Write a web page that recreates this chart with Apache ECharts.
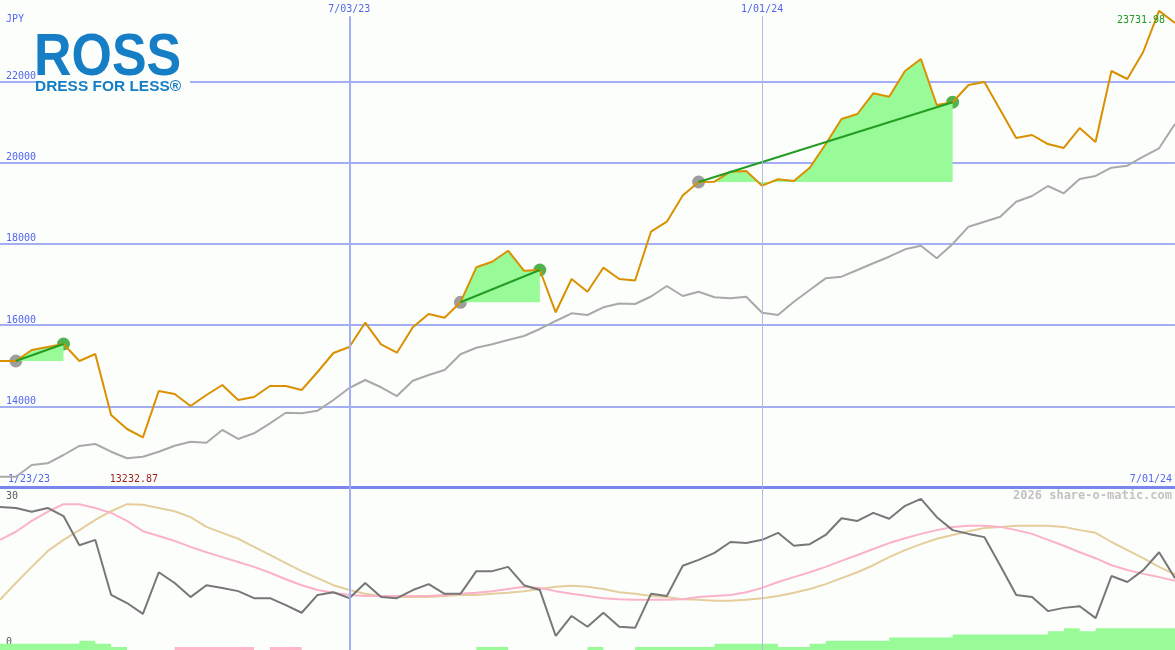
<!DOCTYPE html>
<html>
<head>
<meta charset="utf-8">
<title>ROSS weekly chart</title>
<script src="https://cdn.jsdelivr.net/npm/echarts@6/dist/echarts.min.js"></script>
<style>
  html, body { margin: 0; padding: 0; background: #fcfefc; }
  #chart { width: 1175px; height: 650px; }
</style>
</head>
<body>
<div id="chart"></div>
<script>
// weekly points, index 0 = 1/23/23, index 74 = 7/01/24
const priceJPY = [
  15114, 15114, 15385, 15459, 15532, 15114, 15286, 13785, 13440, 13232.87,
  14376, 14302, 14006, 14277, 14523, 14154, 14228, 14499, 14499, 14400,
  14843, 15311, 15459, 16057, 15525, 15318, 15943, 16271, 16180, 16559,
  17420, 17558, 17829, 17337, 17354, 16313, 17132, 16820, 17411, 17132,
  17095, 18297, 18543, 19188, 19520, 19527, 19774, 19791, 19429, 19587,
  19545, 19872, 20448, 21071, 21194, 21703, 21620, 22252, 22548, 21415,
  21484, 21908, 21982, 21292, 20603, 20677, 20455, 20357, 20849, 20505,
  22252, 22055, 22720, 23731.98, 23434
];
// benchmark (grey) in the same scale
const benchmark = [
  12266, 12266, 12554, 12596, 12800, 13022, 13071, 12881, 12719, 12758,
  12881, 13029, 13128, 13103, 13416, 13194, 13334, 13580, 13841, 13826,
  13891, 14154, 14449, 14646, 14467, 14252, 14629, 14769, 14892, 15279,
  15441, 15525, 15631, 15729, 15902, 16099, 16288, 16246, 16436, 16529,
  16517, 16702, 16960, 16714, 16820, 16682, 16657, 16697, 16303, 16246,
  16574, 16862, 17149, 17189, 17354, 17519, 17681, 17863, 17952, 17642,
  17994, 18420, 18543, 18666, 19035, 19175, 19422, 19242, 19594, 19668,
  19872, 19921, 20143, 20350, 20948
];
// lower panel
const oscillator = [
  26.5, 26.3, 25.6, 26.3, 24.8, 19.4, 20.4, 10.2, 8.7, 6.7,
  14.4, 12.4, 9.8, 12.0, 11.5, 10.9, 9.6, 9.6, 8.3, 6.9,
  10.2, 10.7, 9.6, 12.4, 9.8, 9.6, 11.1, 12.2, 10.4, 10.4,
  14.6, 14.6, 15.4, 12.0, 11.1, 2.6, 6.3, 4.3, 6.9, 4.3,
  4.1, 10.4, 10.0, 15.6, 16.7, 18.0, 20.0, 19.8, 20.4, 21.7,
  19.3, 19.6, 21.3, 24.4, 23.9, 25.4, 24.3, 26.7, 28.0, 24.6,
  22.2, 21.5, 20.9, 15.6, 10.2, 9.8, 7.2, 7.8, 8.1, 5.9,
  13.7, 12.6, 14.8, 18.1, 13.3
];
const avgFast = [
  20.4, 21.9, 23.9, 25.6, 27.0, 27.0, 26.3, 25.4, 23.9, 22.0,
  21.1, 20.2, 19.1, 18.1, 17.2, 16.3, 15.4, 14.3, 13.1, 12.0,
  11.1, 10.6, 10.2, 10.0, 10.0, 10.0, 10.0, 10.0, 10.2, 10.4,
  10.6, 10.9, 11.3, 11.7, 11.5, 10.9, 10.4, 10.0, 9.6, 9.4,
  9.3, 9.3, 9.3, 9.4, 9.8, 10.0, 10.2, 10.7, 11.5, 12.6,
  13.5, 14.4, 15.4, 16.5, 17.6, 18.7, 19.8, 20.7, 21.5, 22.2,
  22.8, 23.0, 23.0, 22.8, 22.2, 21.5, 20.4, 19.3, 18.1, 17.0,
  15.7, 14.8, 14.1, 13.5, 12.8
];
const avgSlow = [
  9.3, 12.4, 15.4, 18.3, 20.4, 22.2, 24.1, 25.7, 27.0, 26.9,
  26.3, 25.7, 24.6, 22.8, 21.7, 20.6, 19.1, 17.6, 16.1, 14.6,
  13.3, 12.0, 11.1, 10.4, 10.0, 9.8, 9.8, 9.8, 10.0, 10.2,
  10.2, 10.4, 10.6, 10.9, 11.3, 11.7, 11.9, 11.7, 11.3, 10.7,
  10.4, 10.0, 9.8, 9.4, 9.3, 9.1, 9.1, 9.3, 9.6, 10.0,
  10.6, 11.3, 12.2, 13.3, 14.4, 15.7, 17.2, 18.5, 19.6, 20.6,
  21.3, 22.0, 22.6, 22.8, 23.0, 23.0, 23.0, 22.8, 22.2, 21.7,
  20.0, 18.5, 17.0, 15.4, 14.0
];
const barsUp = [
  2, 2, 2, 2, 2, 3, 2, 1, 0, 0,
  0, 0, 0, 0, 0, 0, 0, 0, 0, 0,
  0, 0, 0, 0, 0, 0, 0, 0, 0, 0,
  1, 1, 0, 0, 0, 0, 0, 1, 0, 0,
  1, 1, 1, 1, 1, 2, 2, 2, 2, 1,
  1, 2, 3, 3, 3, 3, 4, 4, 4, 4,
  5, 5, 5, 5, 5, 5, 6, 7, 6, 7,
  7, 7, 7, 7, 7
];
const barsDown = [
  0, 0, 0, 0, 0, 0, 0, 0, 0, 0,
  0, 1, 1, 1, 1, 1, 0, 1, 1, 0,
  0, 0, 0, 0, 0, 0, 0, 0, 0, 0,
  0, 0, 0, 0, 0, 0, 0, 0, 0, 0,
  0, 0, 0, 0, 0, 0, 0, 0, 0, 0,
  0, 0, 0, 0, 0, 0, 0, 0, 0, 0,
  0, 0, 0, 0, 0, 0, 0, 0, 0, 0,
  0, 0, 0, 0, 0
];
const topDateIdx = [22, 48];
const edgeDateIdx = [0, 74];
const dateLabels = { 0: '1/23/23', 22: '7/03/23', 48: '1/01/24', 74: '7/01/24' };
const trendStarts = [1, 29, 44];
const trendEnds = [4, 34, 60];

const MONO = "'DejaVu Sans Mono', monospace";
const TXT_BLUE = '#5466ee';
const GRID_BLUE = '#a3aef3';
const LINE_TOP = 23600;

const pts = arr => arr.map((v, i) => [i, v]);

const chart = echarts.init(document.getElementById('chart'));

const fillSeries = trendStarts.map((s, k) => ({
  type: 'line', xAxisIndex: 0, yAxisIndex: 0,
  data: priceJPY.slice(s, trendEnds[k] + 1).map((v, j) => [s + j, v]),
  symbol: 'none', silent: true,
  lineStyle: { width: 0 },
  areaStyle: { origin: priceJPY[s], color: '#98fb98', opacity: 1 }
}));

const trendSeries = trendStarts.map((s, k) => ({
  type: 'line', xAxisIndex: 0, yAxisIndex: 0,
  data: [[s, priceJPY[s]], [trendEnds[k], priceJPY[trendEnds[k]]]],
  symbol: 'none', silent: true,
  lineStyle: { color: '#239c23', width: 2 }
}));

const option = {
  animation: false,
  backgroundColor: '#fcfefc',
  title: {
    text: '2026 share-o-matic.com', right: 3, top: 490, padding: 0,
    textStyle: { fontFamily: MONO, fontSize: 12, fontWeight: 'bold', color: '#c2c2c2' }
  },
  grid: [
    { left: 0, right: 0, top: 0, height: 487.5 },
    { left: 0, right: 0, top: 488, bottom: 0 }
  ],
  xAxis: [
    {
      type: 'value', gridIndex: 0, min: 0, max: 74, position: 'top',
      axisLine: { show: false }, axisTick: { show: false }, splitLine: { show: false },
      axisLabel: {
        inside: true, customValues: topDateIdx, margin: 4, verticalAlign: 'top',
        formatter: v => dateLabels[v], color: TXT_BLUE, fontFamily: MONO, fontSize: 10
      }
    },
    {
      type: 'value', gridIndex: 0, min: 0, max: 74, position: 'bottom',
      axisLine: { show: true, onZero: false, lineStyle: { color: '#7a86ee', width: 3 } },
      axisTick: { show: false }, splitLine: { show: false },
      axisLabel: {
        inside: true, customValues: edgeDateIdx, margin: 3, verticalAlign: 'bottom',
        formatter: v => (v === 0 ? '{l|' : '{r|') + dateLabels[v] + '}',
        color: TXT_BLUE, fontFamily: MONO, fontSize: 10,
        rich: {
          l: { padding: [0, 0, 0, 58], color: TXT_BLUE, fontFamily: MONO, fontSize: 10 },
          r: { padding: [0, 48, 0, 0], color: TXT_BLUE, fontFamily: MONO, fontSize: 10 }
        }
      }
    },
    {
      type: 'value', gridIndex: 1, min: 0, max: 74, show: false
    }
  ],
  yAxis: [
    {
      type: 'value', gridIndex: 0, min: 12000, max: 24000, interval: 2000,
      name: 'JPY', nameLocation: 'end', nameGap: -19,
      nameTextStyle: { align: 'left', verticalAlign: 'middle', padding: [0, 0, 0, 6],
        color: TXT_BLUE, fontFamily: MONO, fontSize: 10 },
      axisLine: { show: false }, axisTick: { show: false },
      splitLine: { showMinLine: false, showMaxLine: false, lineStyle: { color: GRID_BLUE, width: 2 } },
      axisLabel: {
        inside: true, margin: 6, verticalAlign: 'bottom',
        showMinLabel: false, showMaxLabel: false,
        formatter: v => String(v),
        color: TXT_BLUE, fontFamily: MONO, fontSize: 10
      }
    },
    {
      type: 'value', gridIndex: 1, min: 0, max: 30, interval: 30,
      axisLine: { show: false }, axisTick: { show: false }, splitLine: { show: false },
      axisLabel: {
        inside: true, margin: 6,
        formatter: v => (v === 30 ? '{t|30}' : '{b|0}'),
        rich: {
          t: { padding: [16, 0, 0, 0], color: '#5a5a5a', fontFamily: MONO, fontSize: 10 },
          b: { padding: [0, 0, 16, 0], color: '#5a5a5a', fontFamily: MONO, fontSize: 10 }
        }
      }
    },
    { type: 'value', gridIndex: 1, min: 0, max: 52, show: false }
  ],
  graphic: [
    { type: 'rect', z: 10, shape: { x: 36, y: 32, width: 154, height: 64 }, style: { fill: '#fcfefc' } },
    {
      type: 'text', z: 11, x: 34, y: 29, scaleX: 0.88,
      style: { text: 'ROSS', font: 'bold 59px "Liberation Sans"', fill: '#157ec4' }
    },
    {
      type: 'text', z: 11, x: 35, y: 79, scaleX: 1.03,
      style: { text: 'DRESS FOR LESS®', font: 'bold 15px "Liberation Sans"', fill: '#157ec4' }
    }
  ],
  series: [
    {
      type: 'line', xAxisIndex: 0, yAxisIndex: 0, data: pts(benchmark),
      symbol: 'none', silent: true, lineStyle: { color: '#a9a9a9', width: 2 },
      markLine: {
        silent: true, symbol: ['none', 'none'], label: { show: false },
        data: [
          [{ coord: [topDateIdx[0], LINE_TOP], lineStyle: { color: GRID_BLUE, width: 2, type: 'solid' } },
           { coord: [topDateIdx[0], 12000] }],
          [{ coord: [topDateIdx[1], LINE_TOP], lineStyle: { color: '#b2b7e4', width: 1, type: 'solid' } },
           { coord: [topDateIdx[1], 12000] }]
        ]
      }
    },
    ...fillSeries,
    {
      type: 'line', xAxisIndex: 0, yAxisIndex: 0, data: pts(priceJPY),
      symbol: 'none', silent: true, lineStyle: { color: '#da9000', width: 2 },
      markPoint: {
        symbol: 'circle', symbolSize: 0, silent: true,
        label: { show: true, fontFamily: MONO, fontSize: 10, formatter: p => p.value.toFixed(2) },
        data: [
          { type: 'min', label: { color: '#9b1c1c', offset: [-9, 42] } },
          { type: 'max', label: { color: '#229922', offset: [-18, 10] } }
        ]
      }
    },
    ...trendSeries,
    {
      type: 'scatter', xAxisIndex: 0, yAxisIndex: 0, silent: true,
      data: trendStarts.map(s => [s, priceJPY[s]]),
      symbolSize: 13, itemStyle: { color: '#858585' }
    },
    {
      type: 'scatter', xAxisIndex: 0, yAxisIndex: 0, silent: true,
      data: trendEnds.map(e => [e, priceJPY[e]]),
      symbolSize: 13, itemStyle: { color: '#24a024' }
    },
    // lower panel
    {
      type: 'line', xAxisIndex: 2, yAxisIndex: 2, data: pts(barsUp), step: 'end',
      symbol: 'none', silent: true, lineStyle: { width: 0 },
      areaStyle: { color: '#98fb98', opacity: 1 },
      markLine: {
        silent: true, symbol: ['none', 'none'], label: { show: false },
        data: [
          { xAxis: topDateIdx[0], lineStyle: { color: GRID_BLUE, width: 2, type: 'solid' } },
          { xAxis: topDateIdx[1], lineStyle: { color: '#b2b7e4', width: 1, type: 'solid' } }
        ]
      }
    },
    {
      type: 'line', xAxisIndex: 2, yAxisIndex: 2, data: pts(barsDown), step: 'end',
      symbol: 'none', silent: true, lineStyle: { width: 0 },
      areaStyle: { color: '#ffb6c8', opacity: 1 }
    },
    {
      type: 'line', xAxisIndex: 2, yAxisIndex: 1, data: pts(avgSlow),
      symbol: 'none', silent: true, lineStyle: { color: '#e6cd9c', width: 2 }
    },
    {
      type: 'line', xAxisIndex: 2, yAxisIndex: 1, data: pts(avgFast),
      symbol: 'none', silent: true, lineStyle: { color: '#fbb2c8', width: 2 }
    },
    {
      type: 'line', xAxisIndex: 2, yAxisIndex: 1, data: pts(oscillator),
      symbol: 'none', silent: true, lineStyle: { color: '#777777', width: 2 }
    }
  ]
};

chart.setOption(option);
</script>
</body>
</html>
